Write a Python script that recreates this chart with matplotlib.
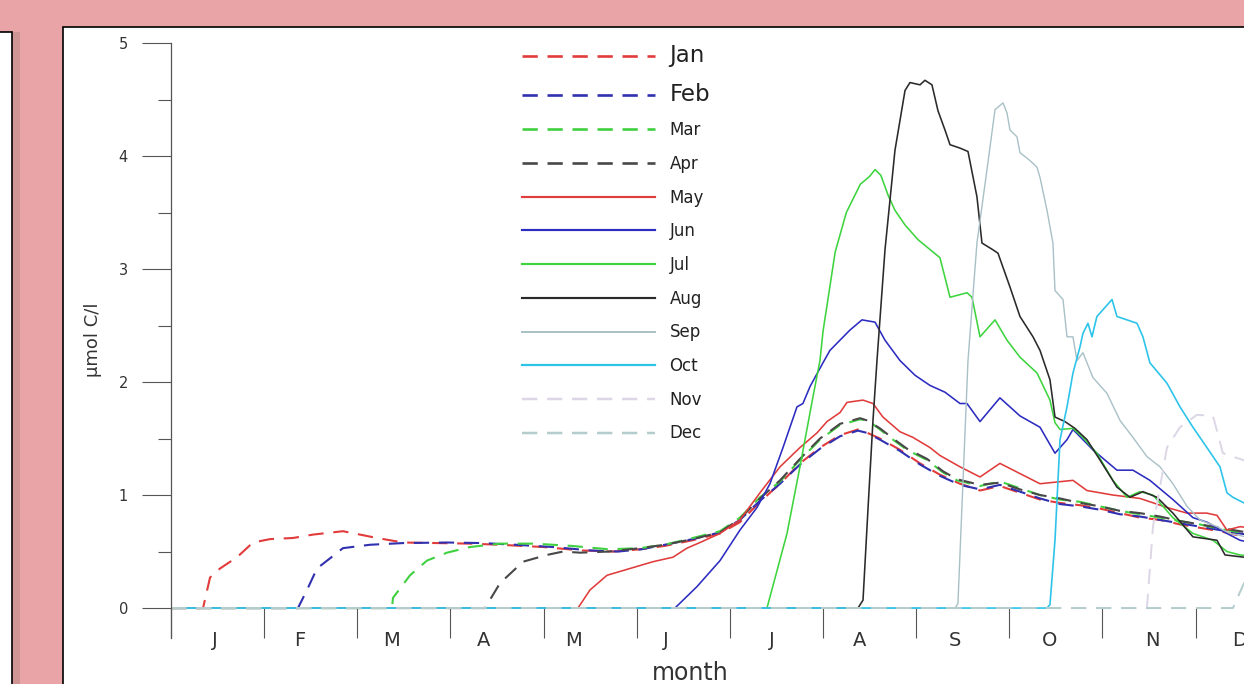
import matplotlib
matplotlib.use("Agg")
import matplotlib.pyplot as plt
from matplotlib.patches import Rectangle
from matplotlib.lines import Line2D

# x in months since 1 Jan, y in umol C/l
jan_x = [0, 0.344, 0.419, 0.526, 0.709, 0.880, 1.063, 1.310, 1.524, 1.846, 2.029, 2.211, 2.491, 2.856, 3.210,
         3.53, 4.0, 4.4, 4.75, 5.035, 5.3, 5.6, 5.894, 6.108, 6.323, 6.538, 6.752, 6.967, 7.182, 7.375, 7.45,
         7.611, 7.826, 8.041, 8.255, 8.470, 8.685, 8.899, 9.114, 9.329, 9.544, 9.758, 9.973, 10.188, 10.402,
         10.617, 10.832, 11.046, 11.261, 11.476, 11.7]
jan_y = [0, 0, 0.27, 0.35, 0.45, 0.58, 0.61, 0.62, 0.65, 0.68, 0.65, 0.62, 0.58, 0.575, 0.57,
         0.56, 0.54, 0.51, 0.50, 0.52, 0.55, 0.60, 0.66, 0.76, 0.94, 1.10, 1.28, 1.42, 1.53, 1.58, 1.56,
         1.50, 1.40, 1.28, 1.18, 1.10, 1.04, 1.08, 1.02, 0.96, 0.93, 0.91, 0.88, 0.84, 0.80,
         0.78, 0.74, 0.71, 0.68, 0.64, 0.62]

feb_x = [0, 1.363, 1.460, 1.567, 1.707, 1.846, 2.136, 2.491, 2.963, 3.349, 3.7, 4.1, 4.5, 4.8, 5.05, 5.3, 5.6,
         5.894, 6.108, 6.323, 6.538, 6.752, 6.967, 7.182, 7.375, 7.472, 7.611, 7.826, 8.041, 8.255, 8.470,
         8.685, 8.899, 9.114, 9.329, 9.544, 9.758, 9.973, 10.188, 10.402, 10.617, 10.832, 11.046, 11.261,
         11.476, 11.7]
feb_y = [0, 0, 0.16, 0.35, 0.44, 0.53, 0.56, 0.575, 0.58, 0.575, 0.56, 0.54, 0.51, 0.50, 0.52, 0.56, 0.61,
         0.67, 0.78, 0.95, 1.10, 1.27, 1.41, 1.52, 1.57, 1.55, 1.49, 1.39, 1.27, 1.17, 1.09,
         1.05, 1.09, 1.03, 0.97, 0.92, 0.90, 0.87, 0.83, 0.81, 0.78, 0.75, 0.72, 0.69,
         0.66, 0.63]

mar_x = [0, 2.372, 2.383, 2.566, 2.748, 2.963, 3.210, 3.532, 3.9, 4.3, 4.7, 5.035, 5.3, 5.6, 5.894, 6.108,
         6.323, 6.538, 6.752, 6.967, 7.182, 7.397, 7.482, 7.611, 7.751, 7.901, 8.116, 8.288, 8.438, 8.685,
         8.899, 9.114, 9.329, 9.544, 9.758, 9.973, 10.188, 10.402, 10.617, 10.832, 11.046, 11.261, 11.476, 11.7]
mar_y = [0, 0, 0.09, 0.29, 0.42, 0.49, 0.54, 0.57, 0.57, 0.55, 0.52, 0.53, 0.56, 0.62, 0.68, 0.80,
         0.98, 1.12, 1.31, 1.49, 1.62, 1.67, 1.66, 1.58, 1.49, 1.40, 1.31, 1.20, 1.13, 1.08,
         1.12, 1.06, 1.00, 0.96, 0.94, 0.90, 0.86, 0.83, 0.80, 0.77, 0.74, 0.70, 0.67, 0.64]

apr_x = [0, 3.371, 3.532, 3.779, 4.036, 4.208, 4.391, 4.7, 5.035, 5.3, 5.6, 5.894, 6.108, 6.323, 6.538,
         6.752, 6.967, 7.182, 7.397, 7.472, 7.611, 7.751, 7.901, 8.116, 8.288, 8.438, 8.685, 8.899, 9.114,
         9.329, 9.544, 9.758, 9.973, 10.188, 10.402, 10.617, 10.832, 11.046, 11.261, 11.476, 11.7]
apr_y = [0, 0, 0.22, 0.41, 0.47, 0.50, 0.49, 0.50, 0.53, 0.56, 0.61, 0.67, 0.79, 0.97, 1.13,
         1.32, 1.50, 1.63, 1.68, 1.66, 1.59, 1.50, 1.41, 1.32, 1.21, 1.14, 1.09, 1.11, 1.05,
         1.00, 0.97, 0.93, 0.90, 0.86, 0.84, 0.81, 0.77, 0.74, 0.71, 0.68, 0.65]

may_x = [0, 4.369, 4.498, 4.681, 4.927, 5.174, 5.389, 5.539, 5.679, 5.894, 6.108, 6.323, 6.538, 6.752,
         6.935, 7.042, 7.182, 7.257, 7.429, 7.536, 7.643, 7.826, 7.965, 8.148, 8.255, 8.470, 8.685, 8.899,
         9.114, 9.329, 9.683, 9.833, 10.112, 10.402, 10.692, 10.907, 11.121, 11.229, 11.336, 11.476, 11.7]
may_y = [0, 0, 0.16, 0.29, 0.35, 0.41, 0.45, 0.53, 0.58, 0.66, 0.78, 1.02, 1.25, 1.42,
         1.55, 1.65, 1.73, 1.82, 1.84, 1.81, 1.69, 1.56, 1.51, 1.42, 1.35, 1.25, 1.16, 1.28,
         1.19, 1.10, 1.13, 1.04, 1.00, 0.97, 0.89, 0.84, 0.84, 0.82, 0.69, 0.72, 0.70]

jun_x = [0, 5.410, 5.647, 5.894, 6.108, 6.291, 6.430, 6.570, 6.720, 6.784, 6.860, 6.999, 7.074, 7.289,
         7.418, 7.558, 7.665, 7.826, 7.987, 8.148, 8.309, 8.470, 8.545, 8.685, 8.899, 9.114, 9.329, 9.490,
         9.619, 9.683, 9.897, 10.155, 10.327, 10.509, 10.756, 10.971, 11.121, 11.336, 11.476, 11.7]
jun_y = [0, 0, 0.19, 0.42, 0.69, 0.89, 1.10, 1.42, 1.78, 1.81, 1.96, 2.17, 2.28, 2.46,
         2.55, 2.53, 2.37, 2.19, 2.06, 1.97, 1.91, 1.81, 1.81, 1.65, 1.86, 1.70, 1.60, 1.37,
         1.49, 1.58, 1.40, 1.22, 1.22, 1.13, 0.96, 0.80, 0.76, 0.66, 0.60, 0.56]

jul_x = [0, 6.398, 6.613, 6.752, 6.892, 6.967, 7.0, 7.13, 7.25, 7.40, 7.50, 7.558, 7.62, 7.70, 7.772,
         7.880, 8.019, 8.255, 8.363, 8.545, 8.599, 8.685, 8.846, 8.975, 9.114, 9.297, 9.436, 9.490, 9.544,
         9.683, 9.790, 9.940, 10.112, 10.263, 10.402, 10.542, 10.756, 10.971, 11.186, 11.336, 11.476, 11.7]
jul_y = [0, 0, 0.66, 1.25, 1.87, 2.19, 2.45, 3.15, 3.50, 3.75, 3.82, 3.88, 3.83, 3.65, 3.52,
         3.39, 3.26, 3.10, 2.75, 2.79, 2.75, 2.40, 2.55, 2.37, 2.22, 2.08, 1.84, 1.64, 1.58,
         1.59, 1.51, 1.37, 1.13, 0.98, 1.03, 1.00, 0.80, 0.66, 0.60, 0.50, 0.47, 0.45]

aug_x = [0, 7.375, 7.429, 7.482, 7.536, 7.579, 7.665, 7.772, 7.880, 7.933, 8.041, 8.094, 8.169, 8.234,
         8.309, 8.363, 8.470, 8.556, 8.652, 8.706, 8.824, 8.878, 9.007, 9.114, 9.254, 9.329, 9.436, 9.490,
         9.597, 9.704, 9.833, 9.973, 10.155, 10.295, 10.434, 10.585, 10.756, 10.971, 11.229, 11.315, 11.519, 11.7]
aug_y = [0, 0, 0.07, 0.87, 1.66, 2.19, 3.17, 4.05, 4.58, 4.65, 4.63, 4.67, 4.63, 4.40,
         4.23, 4.10, 4.07, 4.04, 3.64, 3.23, 3.17, 3.14, 2.84, 2.58, 2.40, 2.28, 2.02, 1.69,
         1.65, 1.59, 1.49, 1.31, 1.07, 0.98, 1.03, 0.98, 0.84, 0.63, 0.60, 0.47, 0.45, 0.43]

sep_x = [0, 8.416, 8.448, 8.556, 8.652, 8.760, 8.846, 8.932, 8.975, 9.007, 9.082, 9.114, 9.221, 9.297,
         9.329, 9.404, 9.468, 9.490, 9.576, 9.619, 9.683, 9.726, 9.790, 9.897, 10.048, 10.188, 10.327,
         10.477, 10.617, 10.756, 10.907, 11.046, 11.229, 11.368, 11.6]
sep_y = [0, 0, 0.04, 2.19, 3.23, 3.88, 4.41, 4.47, 4.38, 4.23, 4.17, 4.03, 3.96, 3.90,
         3.81, 3.52, 3.23, 2.81, 2.73, 2.40, 2.40, 2.19, 2.26, 2.04, 1.90, 1.66, 1.51,
         1.34, 1.25, 1.10, 0.90, 0.78, 0.72, 0.66, 0.62]

oct_x = [0, 9.404, 9.436, 9.490, 9.544, 9.619, 9.683, 9.758, 9.790, 9.844, 9.887, 9.940, 10.005, 10.102,
         10.155, 10.263, 10.370, 10.434, 10.509, 10.692, 10.832, 10.971, 11.121, 11.261, 11.336, 11.400,
         11.519, 11.7]
oct_y = [0, 0, 0.03, 0.60, 1.49, 1.78, 2.08, 2.31, 2.43, 2.52, 2.40, 2.58, 2.64, 2.73,
         2.58, 2.55, 2.52, 2.40, 2.17, 1.99, 1.78, 1.60, 1.42, 1.25, 1.02, 0.98,
         0.93, 0.90]

nov_x = [0, 10.477, 10.542, 10.692, 10.832, 11.014, 11.186, 11.293, 11.508, 11.7]
nov_y = [0, 0, 0.72, 1.42, 1.60, 1.71, 1.70, 1.37, 1.31, 1.25]

dec_x = [0, 11.40, 11.508, 11.7]
dec_y = [0, 0, 0.20, 0.50]

labels = ["Jan", "Feb", "Mar", "Apr", "May", "Jun", "Jul", "Aug", "Sep", "Oct", "Nov", "Dec"]
xs = [jan_x, feb_x, mar_x, apr_x, may_x, jun_x, jul_x, aug_x, sep_x, oct_x, nov_x, dec_x]
ys = [jan_y, feb_y, mar_y, apr_y, may_y, jun_y, jul_y, aug_y, sep_y, oct_y, nov_y, dec_y]
month_letters = ["J", "F", "M", "A", "M", "J", "J", "A", "S", "O", "N", "D"]
letter_pos = [0.472, 1.385, 2.372, 3.360, 4.326, 5.314, 6.452, 7.397, 8.416, 9.436, 10.531, 11.476]

colors = ["#e23b3b", "#3030b0", "#40d040", "#484848", "#e03c3c", "#2c2cc0",
          "#3ed43e", "#2a2a2a", "#a8c0c6", "#2ec4ea", "#dcd6e6", "#b4cccc"]
dashed = [True, True, True, True, False, False, False, False, False, False, True, True]
widths = [1.5, 1.5, 1.5, 1.5, 1.15, 1.15, 1.15, 1.15, 1.0, 1.2, 1.4, 1.4]

plt.rcParams['font.family'] = ['DejaVu Sans']
plt.rcParams['lines.scale_dashes'] = False

W, H = 1244, 684
fig = plt.figure(figsize=(W / 100, H / 100), dpi=100, facecolor="#e8a4a6")

# slide panels behind the chart
fig.patches.append(Rectangle((13 / W, 0), 7 / W, 1 - 32 / H, transform=fig.transFigure,
                             facecolor="#cf9595", edgecolor="none", zorder=-3))
fig.patches.append(Rectangle((-10 / W, -10 / H), 22 / W, 1 - 22 / H, transform=fig.transFigure,
                             facecolor="white", edgecolor="black", linewidth=1.2, zorder=-2))
fig.patches.append(Rectangle((63 / W, -10 / H), 1.2, 1 - 17 / H, transform=fig.transFigure,
                             facecolor="white", edgecolor="black", linewidth=1.2, zorder=-2))

ax = fig.add_axes([171 / W, 46 / H, 1117.8 / W, 595 / H])
ax.set_facecolor("none")

for i in range(12):
    ls = (0, (11, 7)) if dashed[i] else "-"
    ax.plot(xs[i], ys[i], color=colors[i], lw=widths[i], linestyle=ls, label=labels[i])

ax.set_xlim(0, 12)
ax.set_ylim(-0.265, 5)

for s in ["top", "right", "bottom"]:
    ax.spines[s].set_visible(False)
ax.spines["left"].set_color("#555555")
ax.spines["left"].set_linewidth(0.9)

ax.set_yticks(range(6))
ax.set_yticks([0.5, 1.5, 2.5, 3.5, 4.5], minor=True)
ax.tick_params(axis="y", which="major", direction="out", length=21, width=0.8, color="#555555",
               pad=10, labelsize=10.5, labelcolor="#333333")
ax.tick_params(axis="y", which="minor", direction="out", length=9.5, width=0.8, color="#555555")

ax.set_xticks(range(13))
ax.set_xticklabels([])
ax.set_xticks(letter_pos, minor=True)
ax.set_xticklabels(month_letters, minor=True)
ax.tick_params(axis="x", which="major", direction="in", length=21.5, width=0.8, color="#555555")
ax.tick_params(axis="x", which="minor", length=0, pad=-5, labelsize=14, labelcolor="#333333")

ax.set_ylabel("µmol C/l", fontsize=13, color="#333333")
ax.yaxis.set_label_coords((102 - 171) / 1117.8, (638 - 340) / 595)
fig.text(690 / W, 1 - 680 / H, "month", ha="center", va="baseline", fontsize=17, color="#333333")

handles = []
for i in range(12):
    ls = (0, (11, 7)) if dashed[i] else "-"
    handles.append(Line2D([], [], color=colors[i], lw=widths[i] + 0.4, linestyle=ls))
leg = ax.legend(handles, labels, loc="upper left", bbox_to_anchor=(522 / W, 1 - 44 / H),
                bbox_transform=fig.transFigure, frameon=False, fontsize=12,
                handlelength=7.95, handletextpad=0.9, labelspacing=0.94,
                borderpad=0, borderaxespad=0)
for t in leg.get_texts():
    t.set_color("#222222")
leg.get_texts()[0].set_fontsize(16.5)
leg.get_texts()[1].set_fontsize(16.5)

fig.savefig("out.png", dpi=100, facecolor=fig.get_facecolor())
